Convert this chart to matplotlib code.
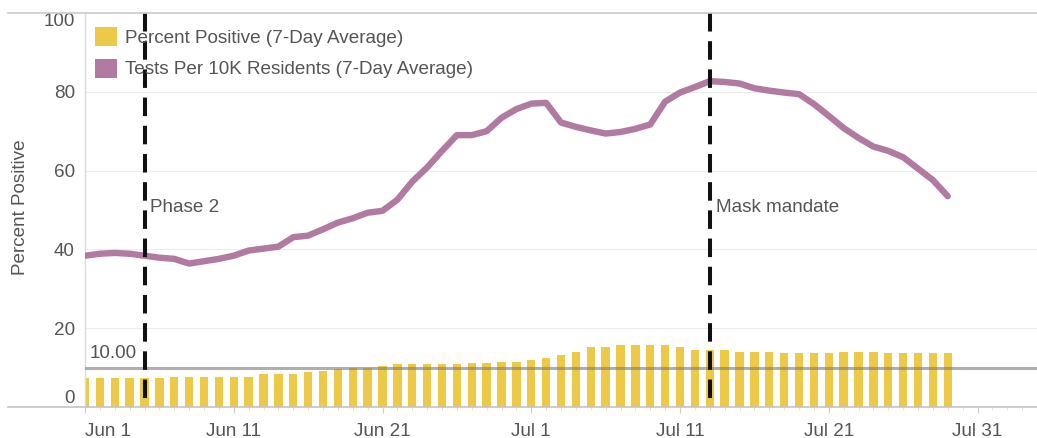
from datetime import datetime, timedelta

import matplotlib

matplotlib.use("Agg")
import matplotlib.pyplot as plt
from matplotlib.patches import Patch

plt.rcParams["font.family"] = ["Liberation Sans", "DejaVu Sans"]

# daily values, Jun 1 .. Jul 29
pct_positive = [
    7.3, 7.3, 7.3, 7.3, 7.3, 7.3,
    7.7, 7.7, 7.7, 7.7, 7.7, 7.7,
    8.4, 8.4, 8.4, 8.8, 9.2, 9.7, 10.0, 10.0,
    10.3, 10.8, 10.8, 10.8, 10.8, 10.8, 11.2, 11.2, 11.5, 11.5,
    12.0, 12.4, 13.3, 14.0, 15.2, 15.2, 15.7, 15.7, 15.7, 15.7,
    15.2, 14.4, 14.4, 14.4, 14.0, 14.0, 14.0, 13.6, 13.6, 13.6,
    13.6, 14.0, 14.0, 14.0, 13.6, 13.6, 13.6, 13.6, 13.6,
]
tests_per_10k = [
    38.4, 38.9, 39.1, 38.9, 38.4, 37.9, 37.6, 36.4, 37.0, 37.6,
    38.4, 39.7, 40.2, 40.7, 43.1, 43.5, 45.1, 46.8, 47.9, 49.3,
    49.8, 52.6, 57.2, 60.8, 65.0, 69.0, 69.0, 70.0, 73.4, 75.6,
    77.0, 77.2, 72.2, 71.1, 70.2, 69.4, 69.8, 70.6, 71.7, 77.5,
    79.8, 81.2, 82.7, 82.5, 82.1, 80.9, 80.3, 79.8, 79.4, 76.9,
    73.9, 70.8, 68.3, 66.1, 65.0, 63.4, 60.5, 57.6, 53.5,
]
start = datetime(2020, 6, 1)
dates = [start + timedelta(days=i) for i in range(len(pct_positive))]

threshold = 10
events = [(datetime(2020, 6, 5), "Phase 2"), (datetime(2020, 7, 13), "Mask mandate")]

tick_dates = [datetime(2020, 6, 1), datetime(2020, 6, 11), datetime(2020, 6, 21),
              datetime(2020, 7, 1), datetime(2020, 7, 11), datetime(2020, 7, 21),
              datetime(2020, 7, 31)]
tick_labels = ["Jun 1", "Jun 11", "Jun 21", "Jul 1", "Jul 11", "Jul 21", "Jul 31"]
y_ticks = [0, 20, 40, 60, 80, 100]

YELLOW = "#EDC948"
PURPLE = "#B07AA1"
TEXT = "#555555"
FS = 13.6

fig = plt.figure(figsize=(10.37, 4.38), dpi=100)
ax = fig.add_axes([85 / 1037, 31 / 438, 952 / 1037, 394 / 438])

ax.bar(dates, pct_positive, width=0.56, color=YELLOW, zorder=2)
ax.axhline(threshold, color="#7a7a7a", lw=2.2, alpha=0.6, zorder=3)
ax.plot(dates, tests_per_10k, color=PURPLE, lw=4.6,
        solid_joinstyle="round", solid_capstyle="round", zorder=4)

ax.annotate(f"{threshold:.2f}", xy=(0, threshold), xycoords=("axes fraction", "data"),
            xytext=(5, 6), textcoords="offset pixels", ha="left", va="bottom",
            fontsize=FS, color=TEXT)

for d, label in events:
    ax.axvline(d, ymin=1, ymax=0, color="#111111", lw=2.9, dashes=(4.6, 2.4), zorder=5)
    ax.annotate(label, xy=(d, 50.6), xytext=(6, 0), textcoords="offset pixels",
                ha="left", va="center", fontsize=FS, color=TEXT)

ax.set_xlim(start, datetime(2020, 8, 3, 21))
ax.set_ylim(0, 100)

ax.set_xticks(tick_dates)
ax.set_xticklabels(tick_labels)
ax.set_xticks([start + timedelta(days=i) for i in range(65)], minor=True)
ax.tick_params(axis="x", which="major", length=4.3, width=0.8, color="#cccccc",
               pad=7, labelsize=FS, labelcolor=TEXT)
ax.tick_params(axis="x", which="minor", length=2.2, width=0.6, color="#dddddd")
ax.get_xticklabels()[0].set_ha("left")

ax.set_yticks(y_ticks)
ax.tick_params(axis="y", length=0, pad=7.2, labelsize=FS, labelcolor=TEXT)
ylabels = ax.get_yticklabels()
ylabels[0].set_va("bottom")
ylabels[-1].set_va("top")

ax.grid(axis="y", color="#ececec", lw=0.8, zorder=0)
ax.set_axisbelow(True)

for side in ["top", "right", "bottom"]:
    ax.spines[side].set_visible(False)
ax.spines["left"].set_color("#dcdcdc")
ax.spines["left"].set_linewidth(1.0)
# frame lines that run past the y axis on the left
for yy, col in [(1, "#cccccc"), (0, "#c4c4c4")]:
    ax.plot([-77 / 952, 1], [yy, yy], transform=ax.transAxes, color=col,
            lw=1.2, clip_on=False, zorder=6)

ax.set_ylabel("Percent Positive", fontsize=FS, color=TEXT)
ax.yaxis.set_label_coords(-0.059, 0.508)

handles = [Patch(facecolor=YELLOW, edgecolor="none"), Patch(facecolor=PURPLE, edgecolor="none")]
fig.legend(handles, ["Percent Positive (7-Day Average)", "Tests Per 10K Residents (7-Day Average)"],
           loc="upper left", bbox_to_anchor=(95 / 1037, 1 - 27 / 438), frameon=False,
           fontsize=FS, labelcolor=TEXT, borderpad=0, borderaxespad=0,
           handlelength=1.17, handleheight=1.17, handletextpad=0.42, labelspacing=0.62)

fig.savefig("out.png", dpi=100)
plt.close(fig)
